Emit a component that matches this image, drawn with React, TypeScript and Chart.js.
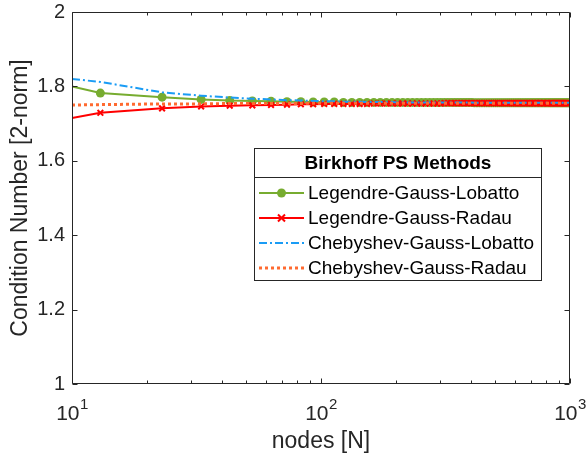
import React, { useEffect, useRef } from 'react';
import { Chart, registerables } from 'chart.js';
Chart.register(...registerables);

const nodes = [
  10,
  13, 23, 33, 43, 53, 63, 73, 83, 93, 103,
  113, 123, 133, 143, 153, 163, 173, 183, 193, 203,
  213, 223, 233, 243, 253, 263, 273, 283, 293, 303,
  313, 323, 333, 343, 353, 363, 373, 383, 393, 403,
  413, 423, 433, 443, 453, 463, 473, 483, 493, 503,
  513, 523, 533, 543, 553, 563, 573, 583, 593, 603,
  613, 623, 633, 643, 653, 663, 673, 683, 693, 703,
  713, 723, 733, 743, 753, 763, 773, 783, 793, 803,
  813, 823, 833, 843, 853, 863, 873, 883, 893, 903,
  913, 923, 933, 943, 953, 963, 973, 983, 993, 1000,
];

const lglValues = [
  1.800,
  1.782, 1.771, 1.765, 1.762, 1.761, 1.760, 1.759, 1.759, 1.758, 1.758,
  1.758, 1.757, 1.757, 1.757, 1.757, 1.757, 1.757, 1.757, 1.757, 1.757,
  1.757, 1.757, 1.757, 1.757, 1.757, 1.757, 1.757, 1.757, 1.757, 1.757,
  1.757, 1.757, 1.757, 1.757, 1.757, 1.757, 1.757, 1.757, 1.757, 1.757,
  1.756, 1.756, 1.756, 1.756, 1.756, 1.756, 1.756, 1.756, 1.756, 1.756,
  1.756, 1.756, 1.756, 1.756, 1.756, 1.756, 1.756, 1.756, 1.756, 1.756,
  1.756, 1.756, 1.756, 1.756, 1.756, 1.756, 1.756, 1.756, 1.756, 1.756,
  1.756, 1.756, 1.756, 1.756, 1.756, 1.756, 1.756, 1.756, 1.756, 1.756,
  1.756, 1.756, 1.756, 1.756, 1.756, 1.756, 1.756, 1.756, 1.756, 1.756,
  1.756, 1.756, 1.756, 1.756, 1.756, 1.756, 1.756, 1.756, 1.756, 1.756,
];

const lgrValues = [
  1.715,
  1.729, 1.741, 1.746, 1.748, 1.749, 1.750, 1.751, 1.752, 1.752, 1.753,
  1.753, 1.753, 1.753, 1.753, 1.753, 1.754, 1.754, 1.754, 1.754, 1.754,
  1.754, 1.754, 1.754, 1.754, 1.754, 1.754, 1.754, 1.754, 1.754, 1.754,
  1.755, 1.755, 1.755, 1.755, 1.755, 1.755, 1.755, 1.755, 1.755, 1.755,
  1.755, 1.755, 1.755, 1.755, 1.755, 1.755, 1.755, 1.755, 1.755, 1.755,
  1.755, 1.755, 1.755, 1.755, 1.755, 1.755, 1.755, 1.755, 1.755, 1.755,
  1.755, 1.755, 1.755, 1.755, 1.755, 1.755, 1.755, 1.755, 1.755, 1.755,
  1.755, 1.755, 1.755, 1.755, 1.755, 1.755, 1.755, 1.755, 1.755, 1.755,
  1.755, 1.755, 1.755, 1.755, 1.755, 1.755, 1.755, 1.755, 1.755, 1.755,
  1.755, 1.755, 1.755, 1.755, 1.755, 1.755, 1.755, 1.755, 1.755, 1.755,
];

const cglValues = [
  1.820,
  1.812, 1.784, 1.775, 1.770, 1.767, 1.765, 1.763, 1.762, 1.761, 1.760,
  1.760, 1.759, 1.759, 1.759, 1.758, 1.758, 1.758, 1.758, 1.758, 1.757,
  1.757, 1.757, 1.757, 1.757, 1.757, 1.757, 1.757, 1.757, 1.757, 1.757,
  1.757, 1.757, 1.757, 1.757, 1.757, 1.757, 1.757, 1.757, 1.757, 1.757,
  1.756, 1.756, 1.756, 1.756, 1.756, 1.756, 1.756, 1.756, 1.756, 1.756,
  1.756, 1.756, 1.756, 1.756, 1.756, 1.756, 1.756, 1.756, 1.756, 1.756,
  1.756, 1.756, 1.756, 1.756, 1.756, 1.756, 1.756, 1.756, 1.756, 1.756,
  1.756, 1.756, 1.756, 1.756, 1.756, 1.756, 1.756, 1.756, 1.756, 1.756,
  1.756, 1.756, 1.756, 1.756, 1.756, 1.756, 1.756, 1.756, 1.756, 1.756,
  1.756, 1.756, 1.756, 1.756, 1.756, 1.756, 1.756, 1.756, 1.756, 1.756,
];

const cgrValues = [
  1.750,
  1.751, 1.753, 1.753, 1.754, 1.754, 1.754, 1.754, 1.754, 1.755, 1.755,
  1.755, 1.755, 1.755, 1.755, 1.755, 1.755, 1.755, 1.755, 1.755, 1.755,
  1.755, 1.755, 1.755, 1.755, 1.755, 1.755, 1.755, 1.755, 1.755, 1.755,
  1.755, 1.755, 1.755, 1.755, 1.755, 1.755, 1.755, 1.755, 1.755, 1.755,
  1.755, 1.755, 1.755, 1.755, 1.755, 1.755, 1.755, 1.755, 1.755, 1.755,
  1.755, 1.755, 1.755, 1.755, 1.755, 1.755, 1.755, 1.755, 1.755, 1.755,
  1.755, 1.755, 1.755, 1.755, 1.755, 1.755, 1.755, 1.755, 1.755, 1.755,
  1.755, 1.755, 1.755, 1.755, 1.755, 1.755, 1.755, 1.755, 1.755, 1.755,
  1.755, 1.755, 1.755, 1.755, 1.755, 1.755, 1.755, 1.755, 1.755, 1.755,
  1.755, 1.755, 1.755, 1.755, 1.755, 1.755, 1.755, 1.755, 1.755, 1.755,
];

const seriesNames = [
  'Legendre-Gauss-Lobatto',
  'Legendre-Gauss-Radau',
  'Chebyshev-Gauss-Lobatto',
  'Chebyshev-Gauss-Radau',
];
const legendTitle = 'Birkhoff PS Methods';
const xTitle = 'nodes [N]';
const yTitle = 'Condition Number [2-norm]';

const xMajorTicks = [10, 100, 1000];
const xMinorTicks = [20, 30, 40, 50, 60, 70, 80, 90, 200, 300, 400, 500, 600, 700, 800, 900];
const yTicks = [1, 1.2, 1.4, 1.6, 1.8, 2];
const xTickBase = '10';

const FONT = '"Liberation Sans", Arial, Helvetica, sans-serif';
const AXIS_COLOR = '#262626';

const toPoints = (vals: number[]) => vals.map((v, i) => ({ x: nodes[i], y: v }));
// markers: hide the edge points at 10 and 1000, which are not sample nodes
const markerRadius = (r: number) => nodes.map((n, i) => (i === 0 || n === 1000 ? 0 : r));

const framePlugin = {
  id: 'frame',
  afterDatasetsDraw(chart: any) {
    const { ctx, chartArea: a, scales } = chart;
    const xs = scales.x;
    const ys = scales.y;
    ctx.save();
    ctx.strokeStyle = AXIS_COLOR;
    ctx.lineWidth = 1;
    const L = Math.round(a.left) + 0.5;
    const R = Math.round(a.right) - 0.5;
    const T = Math.round(a.top) + 0.5;
    const B = Math.round(a.bottom) - 0.5;
    ctx.beginPath();
    ctx.rect(L, T, R - L, B - T);
    ctx.stroke();
    ctx.beginPath();
    const tickX = (v: number, len: number) => {
      const px = Math.round(xs.getPixelForValue(v)) + 0.5;
      ctx.moveTo(px, B);
      ctx.lineTo(px, B - len);
      ctx.moveTo(px, T);
      ctx.lineTo(px, T + len);
    };
    xMajorTicks.forEach((v) => tickX(v, 5));
    xMinorTicks.forEach((v) => tickX(v, 3));
    yTicks.forEach((v) => {
      const py = Math.round(ys.getPixelForValue(v)) + 0.5;
      ctx.moveTo(L, py);
      ctx.lineTo(L + 5, py);
      ctx.moveTo(R, py);
      ctx.lineTo(R - 5, py);
    });
    ctx.stroke();

    // x tick labels as 10 with a raised exponent
    ctx.fillStyle = AXIS_COLOR;
    ctx.textBaseline = 'alphabetic';
    ctx.textAlign = 'left';
    xMajorTicks.forEach((v) => {
      const px = xs.getPixelForValue(v);
      const exp = String(Math.round(Math.log10(v)));
      ctx.font = `21px ${FONT}`;
      const w1 = ctx.measureText(xTickBase).width;
      ctx.font = `15px ${FONT}`;
      const w2 = ctx.measureText(exp).width;
      const start = px - (w1 + w2) / 2;
      ctx.font = `21px ${FONT}`;
      ctx.fillText(xTickBase, start, 420);
      ctx.font = `15px ${FONT}`;
      ctx.fillText(exp, start + w1 + 0.5, 409);
    });
    ctx.restore();
  },
};

const legendPlugin = {
  id: 'boxLegend',
  afterDraw(chart: any) {
    const { ctx } = chart;
    const left = 254.5;
    const right = 541.5;
    const top = 148.5;
    const sep = 177.5;
    const bottom = 280.5;
    ctx.save();
    ctx.fillStyle = '#ffffff';
    ctx.fillRect(left, top, right - left, bottom - top);
    ctx.strokeStyle = AXIS_COLOR;
    ctx.lineWidth = 1;
    ctx.strokeRect(left, top, right - left, bottom - top);
    ctx.beginPath();
    ctx.moveTo(left, sep);
    ctx.lineTo(right, sep);
    ctx.stroke();

    ctx.fillStyle = '#000000';
    ctx.font = `bold 19px ${FONT}`;
    ctx.textAlign = 'center';
    ctx.textBaseline = 'middle';
    ctx.fillText(legendTitle, (left + right) / 2, 163.5);

    const rows = [193, 218, 243, 268];
    ctx.font = `19px ${FONT}`;
    ctx.textAlign = 'left';
    chart.data.datasets.forEach((ds: any, i: number) => {
      const y = rows[i];
      ctx.save();
      ctx.strokeStyle = ds.borderColor;
      ctx.lineWidth = ds.borderWidth;
      ctx.setLineDash(ds.borderDash || []);
      ctx.beginPath();
      ctx.moveTo(259, y);
      ctx.lineTo(304, y);
      ctx.stroke();
      ctx.setLineDash([]);
      const cx = 281.5;
      if (ds.pointStyle === 'circle') {
        ctx.fillStyle = ds.pointBackgroundColor;
        ctx.beginPath();
        ctx.arc(cx, y, 4.5, 0, Math.PI * 2);
        ctx.fill();
      } else if (ds.pointStyle === 'crossRot') {
        ctx.strokeStyle = ds.pointBorderColor;
        ctx.lineWidth = 2;
        const r = 3.5;
        ctx.beginPath();
        ctx.moveTo(cx - r, y - r);
        ctx.lineTo(cx + r, y + r);
        ctx.moveTo(cx + r, y - r);
        ctx.lineTo(cx - r, y + r);
        ctx.stroke();
      }
      ctx.restore();
      ctx.fillStyle = '#000000';
      ctx.fillText(ds.label, 308, y + 1);
    });
    ctx.restore();
  },
};

export default function App() {
  const canvasRef = useRef<HTMLCanvasElement | null>(null);

  useEffect(() => {
    document.body.style.margin = '0';
    const canvas = canvasRef.current;
    if (!canvas) return;
    const chart = new Chart(canvas, {
      type: 'line',
      data: {
        datasets: [
          {
            label: seriesNames[0],
            data: toPoints(lglValues),
            borderColor: '#77ac30',
            backgroundColor: '#77ac30',
            borderWidth: 2,
            pointStyle: 'circle',
            pointRadius: markerRadius(4.5),
            pointBackgroundColor: '#77ac30',
            pointBorderColor: '#77ac30',
            pointBorderWidth: 0,
            order: 3,
          },
          {
            label: seriesNames[1],
            data: toPoints(lgrValues),
            borderColor: '#ff0000',
            backgroundColor: '#ff0000',
            borderWidth: 2,
            pointStyle: 'crossRot',
            pointRadius: markerRadius(4),
            pointBackgroundColor: '#ff0000',
            pointBorderColor: '#ff0000',
            pointBorderWidth: 2,
            order: 2,
          },
          {
            label: seriesNames[2],
            data: toPoints(cglValues),
            borderColor: '#1a9cf5',
            backgroundColor: '#1a9cf5',
            borderWidth: 2,
            borderDash: [8, 3, 2, 3],
            pointRadius: 0,
            order: 1,
          },
          {
            label: seriesNames[3],
            data: toPoints(cgrValues),
            borderColor: '#ff6a30',
            backgroundColor: '#ff6a30',
            borderWidth: 3,
            borderDash: [3, 3],
            pointRadius: 0,
            order: 0,
          },
        ],
      },
      options: {
        animation: false,
        responsive: false,
        devicePixelRatio: 1,
        events: [],
        layout: { padding: { left: 0, right: 17, top: 12, bottom: 0 } },
        plugins: {
          legend: { display: false },
          tooltip: { enabled: false },
        },
        elements: { line: { tension: 0 } },
        scales: {
          x: {
            type: 'logarithmic',
            min: 10,
            max: 1000,
            grid: { display: false, drawTicks: false },
            border: { display: false },
            afterBuildTicks: (scale: any) => {
              scale.ticks = xMajorTicks.map((v) => ({ value: v, major: true }));
            },
            afterFit: (scale: any) => {
              scale.height = 75;
              scale.paddingLeft = 0;
              scale.paddingRight = 0;
            },
            ticks: { display: false },
            title: {
              display: true,
              text: xTitle,
              color: AXIS_COLOR,
              font: { family: FONT, size: 23 },
              padding: { top: 0, bottom: 4 },
            },
          },
          y: {
            type: 'linear',
            min: 1,
            max: 2,
            grid: { display: false, drawTicks: false },
            border: { display: false },
            afterBuildTicks: (scale: any) => {
              scale.ticks = yTicks.map((v) => ({ value: v }));
            },
            afterFit: (scale: any) => {
              scale.width = 72;
              scale.paddingTop = 0;
              scale.paddingBottom = 0;
            },
            ticks: {
              padding: 7,
              color: AXIS_COLOR,
              font: { family: FONT, size: 20 },
              callback: (value: any) => String(Number(Number(value).toFixed(1))),
            },
            title: {
              display: true,
              text: yTitle,
              color: AXIS_COLOR,
              font: { family: FONT, size: 23 },
              padding: { top: 7, bottom: 0 },
            },
          },
        },
      },
      plugins: [framePlugin, legendPlugin],
    });
    return () => chart.destroy();
  }, []);

  return (
    <div style={{ position: 'absolute', left: 0, top: 0, width: 587, height: 459, background: '#fff' }}>
      <canvas ref={canvasRef} width={587} height={459} />
    </div>
  );
}
